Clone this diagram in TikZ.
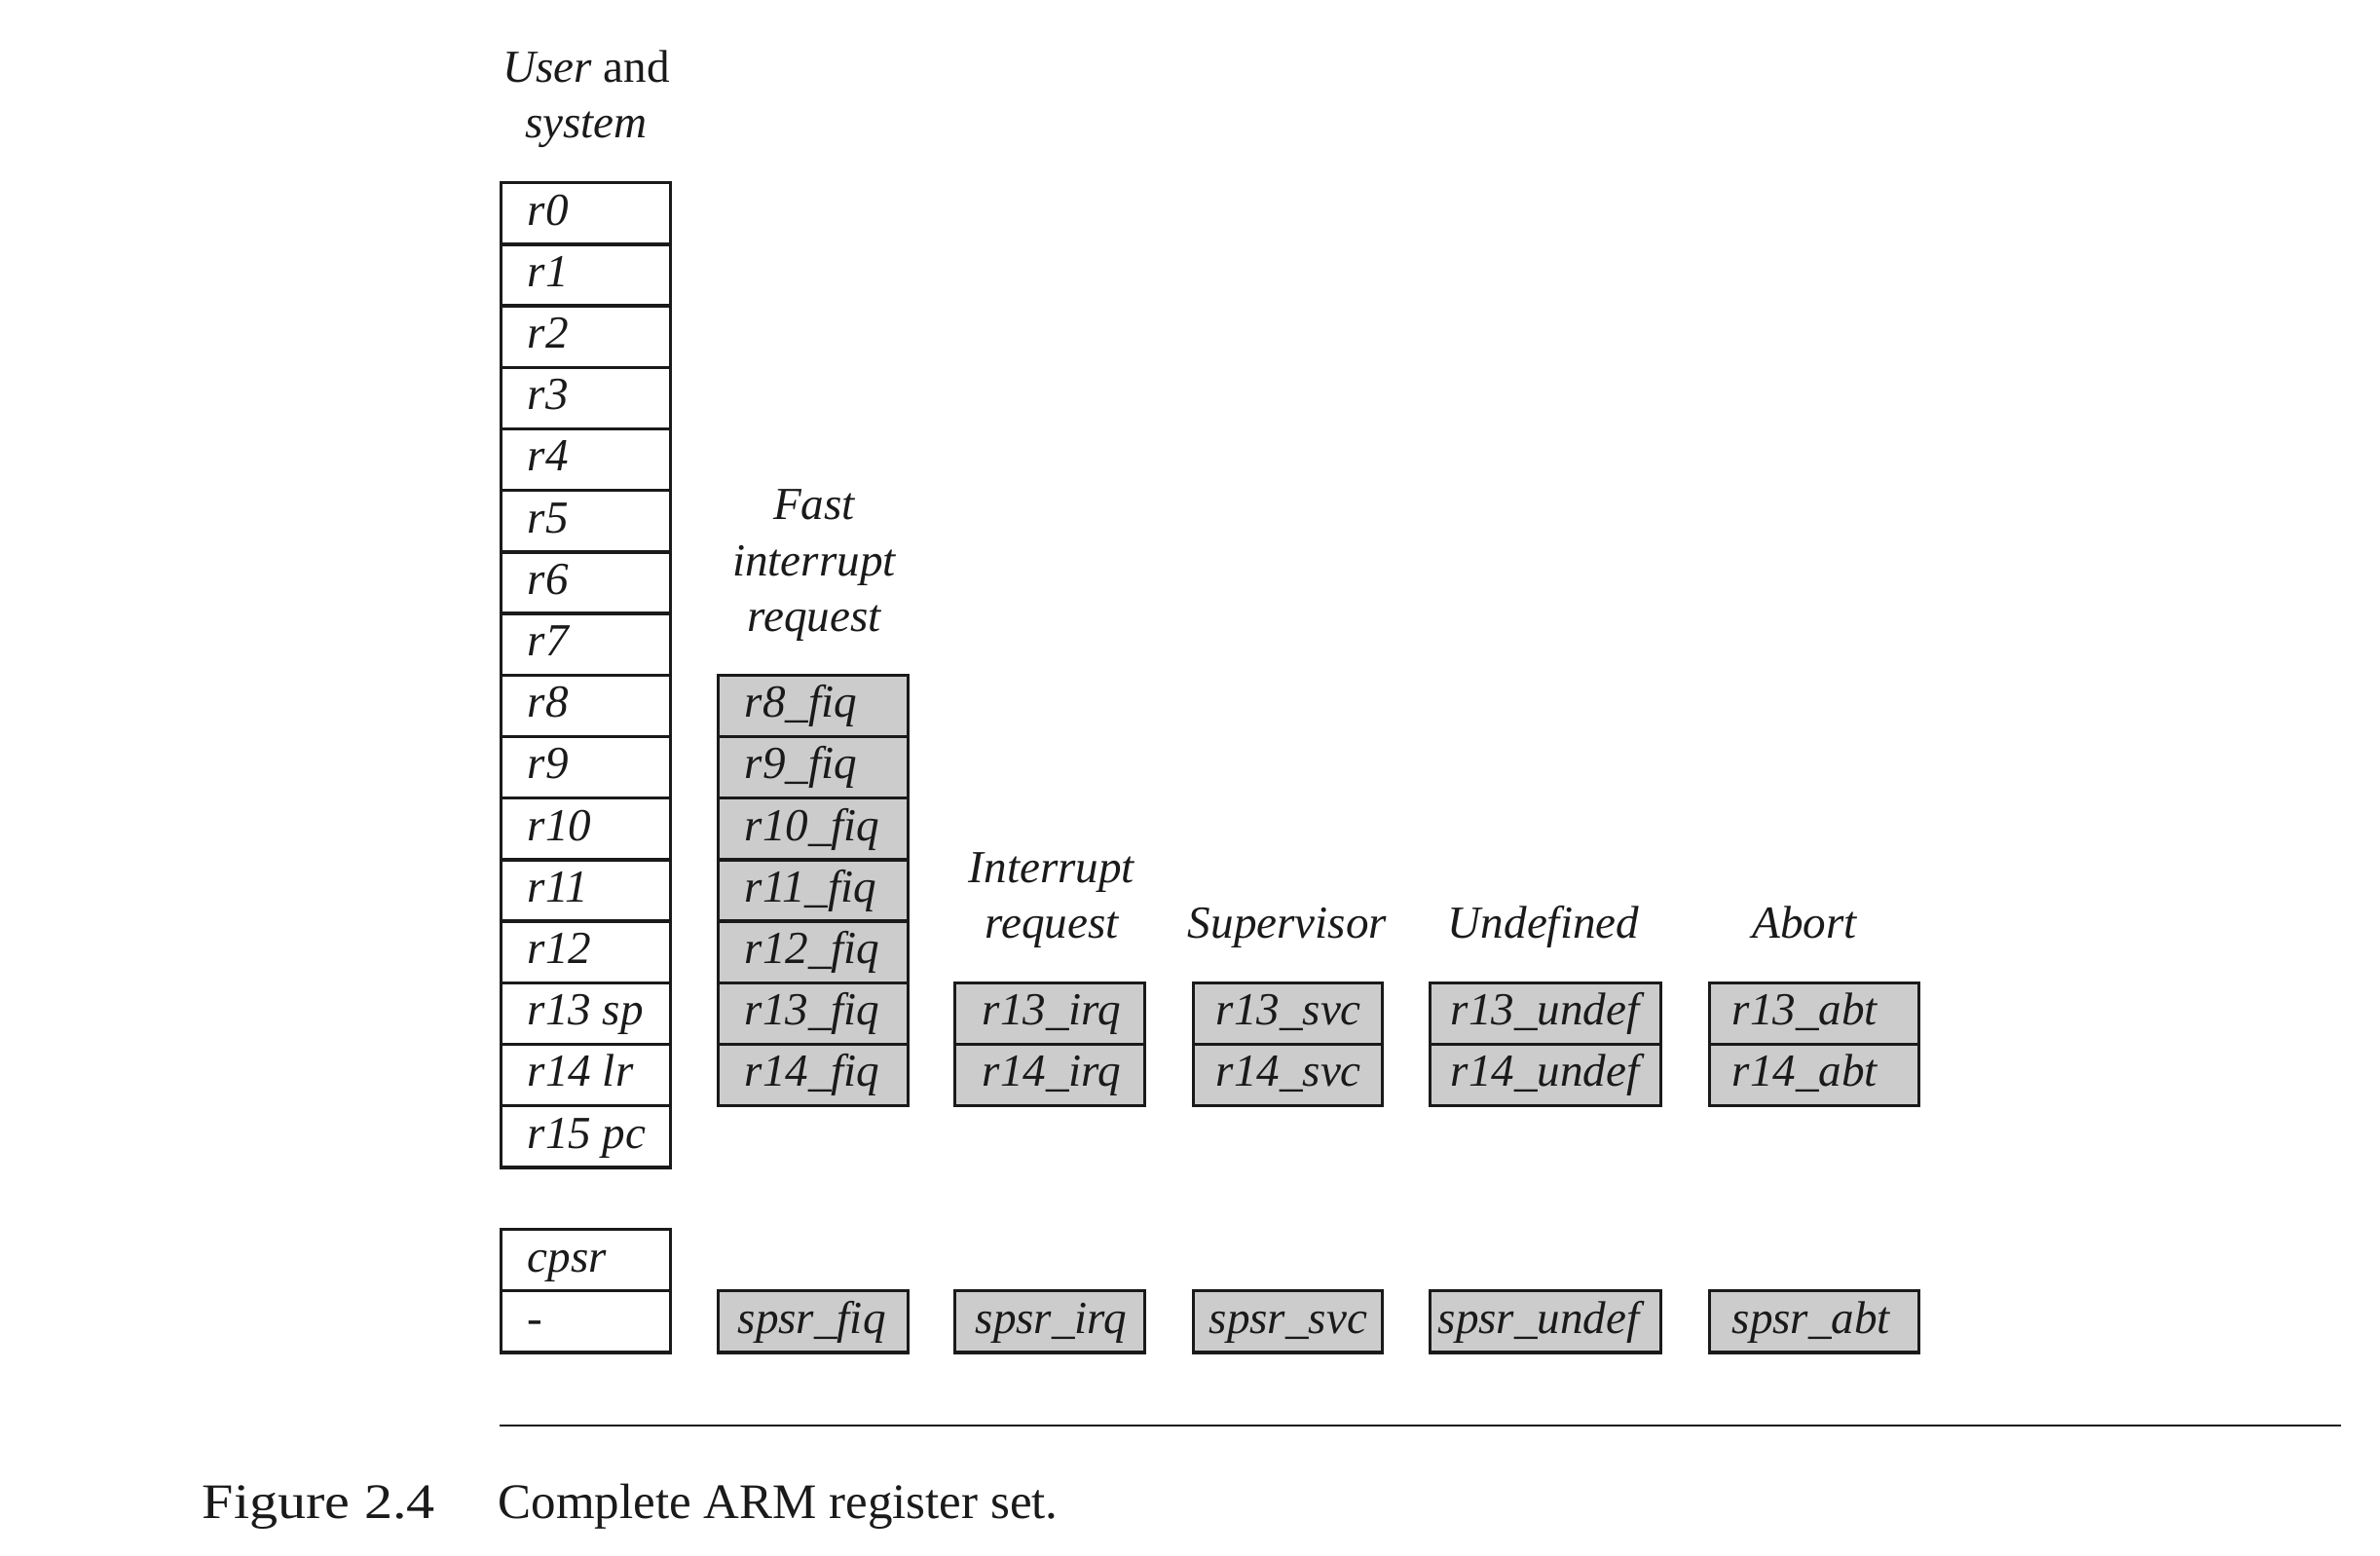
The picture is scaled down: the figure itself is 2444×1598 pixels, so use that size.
\documentclass[tikz,border=0pt]{standalone}
\usepackage{fontspec}
\setmainfont{Liberation Serif}
\newfontfamily\figfont[FakeStretch=1.14]{Liberation Serif}
\definecolor{ink}{HTML}{1A1A1A}
\definecolor{regfill}{HTML}{CCCCCC}
\tikzset{
  regbox/.style={draw=ink, line width=0.95pt, rectangle, inner sep=0pt, minimum height=0.632cm, anchor=north west},
  userreg/.style={regbox, fill=white},
  modereg/.style={regbox, fill=regfill},
  regtext/.style={font=\fontsize{13.4}{16}\selectfont\itshape, text=ink, inner sep=0pt, anchor=base west},
  headtext/.style={font=\fontsize{13.4}{16.4}\selectfont\itshape, text=ink, inner sep=0pt, align=center, anchor=base},
  captext/.style={font=\fontsize{14.5}{17}\selectfont, text=ink, inner sep=0pt, anchor=base west},
}
\newcommand\regcell[7]{%
  \node[#5, minimum width=#4*0.01cm] (#1) at (#2,#3) {};
  \node[regtext] (#1t) at ([xshift=#6*0.01cm, yshift=-0.45cm]#1.north west) {#7};
}
\begin{document}
\begin{tikzpicture}[x=0.01cm,y=-0.01cm]
\useasboundingbox (0,0) rectangle (2444,1598);

% headers
\node[headtext] (hU) at (602,142) {User {\upshape and}\\system};
\node[headtext] (hF) at (836,649) {Fast\\interrupt\\request};
\node[headtext] (hI) at (1080,964) {Interrupt\\request};
\node[headtext] (hS) at (1322,964) {Supervisor};
\node[headtext] (hD) at (1585,964) {Undefined};
\node[headtext] (hA) at (1853,964) {Abort};

% user and system
\foreach \i/\t in {0/r0,1/r1,2/r2,3/r3,4/r4,5/r5,6/r6,7/r7,8/r8,9/r9,10/r10,11/r11,12/r12,13/r13 sp,14/r14 lr,15/r15 pc}{
  \pgfmathsetmacro\ty{186+63.2*\i}
  \regcell{u\i}{513}{\ty}{174}{userreg}{28}{\t}
}
\regcell{cpsr}{513}{1261}{174}{userreg}{28}{cpsr}
\regcell{cpsrx}{513}{1324}{174}{userreg}{28}{-}

% fiq
\foreach \i in {8,...,14}{
  \pgfmathsetmacro\ty{186+63.2*\i}
  \regcell{f\i}{736}{\ty}{195}{modereg}{28}{r\i\_fiq}
}
\regcell{sfiq}{736}{1324}{195}{modereg}{21}{spsr\_fiq}

% irq
\regcell{i13}{979}{1007.6}{195}{modereg}{29}{r13\_irq}
\regcell{i14}{979}{1070.8}{195}{modereg}{29}{r14\_irq}
\regcell{sirq}{979}{1324}{195}{modereg}{22}{spsr\_irq}

% svc
\regcell{s13}{1224}{1007.6}{194}{modereg}{24}{r13\_svc}
\regcell{s14}{1224}{1070.8}{194}{modereg}{24}{r14\_svc}
\regcell{ssvc}{1224}{1324}{194}{modereg}{17}{spsr\_svc}

% undef
\regcell{d13}{1467}{1007.6}{237}{modereg}{22}{r13\_undef}
\regcell{d14}{1467}{1070.8}{237}{modereg}{22}{r14\_undef}
\regcell{sund}{1467}{1324}{237}{modereg}{9}{spsr\_undef}

% abort
\regcell{a13}{1754}{1007.6}{215}{modereg}{24}{r13\_abt}
\regcell{a14}{1754}{1070.8}{215}{modereg}{24}{r14\_abt}
\regcell{sabt}{1754}{1324}{215}{modereg}{24}{spsr\_abt}

% rule and caption
\coordinate (rl) at (513,1464);
\coordinate (rr) at (2404,1464);
\draw[ink, line width=0.8pt] (rl) -- (rr);
\node[captext, font=\fontsize{14.5}{17}\selectfont\figfont] (fig) at (207,1560) {Figure 2.4};
\node[captext] (cap) at (511,1560) {Complete ARM register set.};
\end{tikzpicture}
\end{document}
